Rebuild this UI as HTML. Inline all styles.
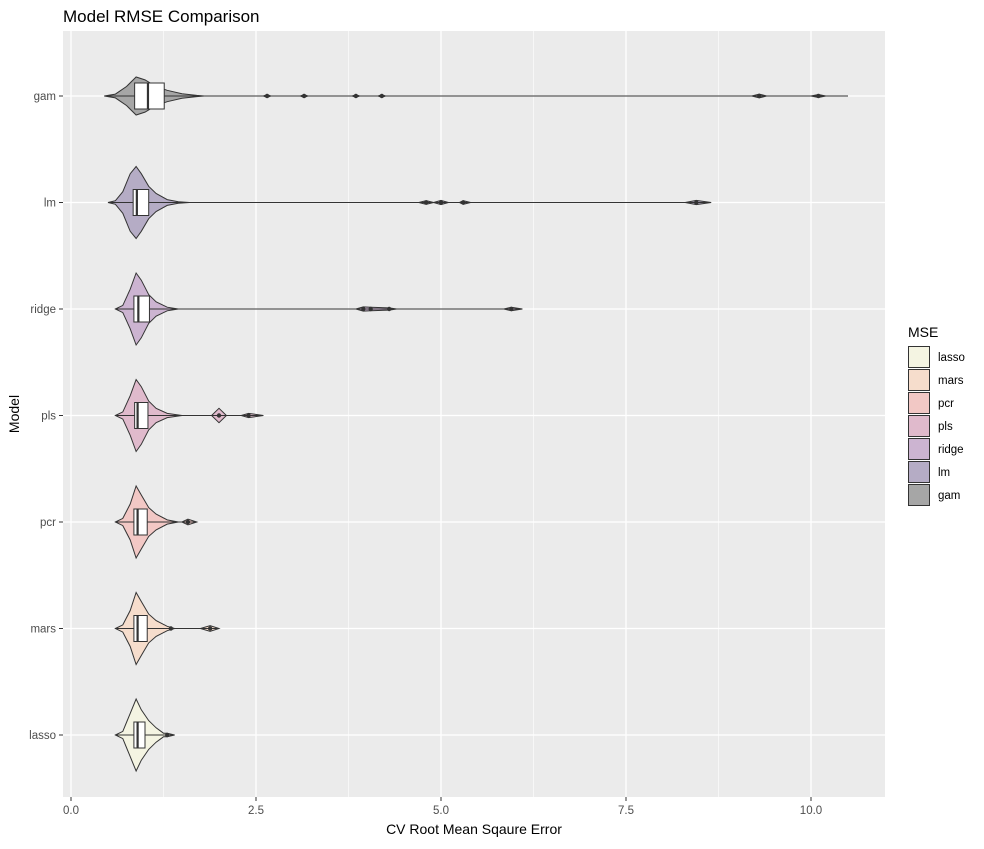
<!DOCTYPE html>
<html><head><meta charset="utf-8"><style>
body{margin:0;background:#fff;font-family:"Liberation Sans",Arial,sans-serif}
svg text{font-family:"Liberation Sans",Arial,sans-serif}
</style></head><body>
<svg id="chart" width="984" height="844" xmlns="http://www.w3.org/2000/svg">
<text x="63" y="22" font-size="17" fill="#000">Model RMSE Comparison</text>
<rect x="63" y="31" width="822" height="766" fill="#ebebeb"/>
<g id="grid"></g><g id="marks"></g><g id="axes"></g><g id="legend"></g>
<text x="474" y="834" font-size="14" fill="#000" text-anchor="middle">CV Root Mean Sqaure Error</text>
<text transform="translate(19,414) rotate(-90)" font-size="14" fill="#000" text-anchor="middle">Model</text>
</svg>
<script>
const models=["gam","lm","ridge","pls","pcr","mars","lasso"];
const colors=["#a6a6a6","#b5acc5","#ccb4d1","#e0bacc","#f2c8c5","#f6ddcc","#f4f4e2"];
const legendOrder=["lasso","mars","pcr","pls","ridge","lm","gam"];
const xTicks=[0,2.5,5,7.5,10];
const xTickLabels=["0.0","2.5","5.0","7.5","10.0"];
const q1=[0.86,0.84,0.85,0.86,0.85,0.85,0.85];
const med=[1.04,0.89,0.91,0.9,0.9,0.9,0.9];
const q3=[1.26,1.05,1.06,1.04,1.03,1.03,1.0];
const outliers=[[2.65,3.15,3.85,4.2,9.3,10.1],[4.8,5.0,5.3,8.45],[3.95,4.05,4.3,5.95],[2.0,2.4],[1.58],[1.35,1.88],[1.3]];
const densX=[
[0.45,0.6,0.75,0.88,1.0,1.15,1.3,1.5,1.7,1.8,2.6,2.65,2.7,3.1,3.15,3.2,3.8,3.85,3.9,4.15,4.2,4.25,9.2,9.3,9.4,10.0,10.1,10.2,10.5],
[0.5,0.6,0.7,0.8,0.88,0.95,1.05,1.15,1.3,1.45,1.6,4.7,4.8,4.9,5.0,5.1,5.25,5.3,5.4,8.3,8.45,8.65],
[0.6,0.7,0.8,0.88,0.95,1.05,1.15,1.3,1.45,3.85,3.95,4.05,4.15,4.3,4.4,5.85,5.95,6.1],
[0.6,0.7,0.8,0.88,0.95,1.05,1.15,1.3,1.5,1.9,2.0,2.1,2.3,2.4,2.6],
[0.6,0.7,0.8,0.88,0.95,1.05,1.15,1.3,1.45,1.5,1.58,1.7],
[0.6,0.7,0.8,0.88,0.95,1.05,1.15,1.3,1.4,1.75,1.88,2.0],
[0.6,0.7,0.8,0.88,0.95,1.05,1.15,1.25,1.3,1.4]];
const densW=[
[0,0.1,0.5,1,0.85,0.5,0.3,0.12,0.03,0,0,0.08,0,0,0.08,0,0,0.07,0,0,0.07,0,0,0.1,0,0,0.08,0,0],
[0,0.05,0.3,0.8,1,0.8,0.45,0.25,0.08,0.02,0,0,0.05,0,0.06,0,0,0.05,0,0,0.06,0],
[0,0.1,0.55,1,0.8,0.4,0.2,0.05,0,0,0.06,0.05,0.04,0.03,0,0,0.05,0],
[0,0.1,0.55,1,0.8,0.4,0.2,0.06,0,0,0.2,0,0,0.06,0],
[0,0.1,0.5,1,0.75,0.4,0.22,0.06,0,0,0.08,0],
[0,0.1,0.5,1,0.75,0.4,0.22,0.06,0,0,0.08,0],
[0,0.1,0.6,1,0.7,0.4,0.2,0.05,0.05,0]];
const halfMax=[19,36,36,36,36,36,36];

const NS="http://www.w3.org/2000/svg";
const X=v=>71+74*v;
const Y=i=>96+106.5*i;
function mk(tag,attrs,parent){const e=document.createElementNS(NS,tag);for(const k in attrs)e.setAttribute(k,attrs[k]);parent.appendChild(e);return e;}
const grid=document.getElementById('grid'),marks=document.getElementById('marks'),axes=document.getElementById('axes'),legend=document.getElementById('legend');
for(let t=0;t<=10.5;t+=1.25){const g=mk('line',{x1:X(t),x2:X(t),y1:31,y2:797,stroke:'#fff','stroke-width':(t%2.5===0)?1.3:0.6},grid);

}
models.forEach((m,i)=>{const g=mk('line',{x1:63,x2:885,y1:Y(i),y2:Y(i),stroke:'#fff','stroke-width':1.3},grid);


const tl=mk('text',{x:56,y:Y(i)+4,'font-size':11.5,fill:'#4d4d4d','text-anchor':'end'},axes);tl.textContent=m;


mk('line',{x1:59,x2:63,y1:Y(i),y2:Y(i),stroke:'#333'},axes);});
xTicks.forEach((t,k)=>{mk('line',{x1:X(t),x2:X(t),y1:797,y2:801,stroke:'#333'},axes);
const tl=mk('text',{x:X(t),y:814,'font-size':11.5,fill:'#4d4d4d','text-anchor':'middle'},axes);tl.textContent=xTickLabels[k];

});
models.forEach((m,i)=>{
 const y=Y(i),xs=densX[i],ws=densW[i],h=halfMax[i];
 let top=xs.map((v,k)=>X(v)+','+(y-ws[k]*h)).join(' L');
 let bot=xs.slice().reverse().map((v,k)=>X(v)+','+(y+ws[xs.length-1-k]*h)).join(' L');
 const p=mk('path',{d:'M'+top+' L'+bot+' Z',fill:colors[i],stroke:'#333','stroke-width':1},marks);
 
 
 const w=mk('line',{x1:X(xs[0]),x2:X(xs[xs.length-1]),y1:y,y2:y,stroke:'#333','stroke-width':1},marks);
 
 
 const b=mk('rect',{x:X(q1[i]),y:y-13,width:X(q3[i])-X(q1[i]),height:26,fill:'#fff',stroke:'#333','stroke-width':1},marks);
 
 
 const md=mk('line',{x1:X(med[i]),x2:X(med[i]),y1:y-13,y2:y+13,stroke:'#333','stroke-width':2.2},marks);
 
 
 outliers[i].forEach(o=>{const c=mk('circle',{cx:X(o),cy:y,r:2.2,fill:'#333'},marks);
 
 });
});
const lt=mk('text',{x:908,y:337,'font-size':14,fill:'#000'},legend);lt.textContent='MSE';


legendOrder.forEach((m,k)=>{const i=models.indexOf(m);const y=346+k*23;
 const r=mk('rect',{x:908.5,y:y+0.5,width:21,height:21,fill:colors[i],stroke:'#333','stroke-width':1},legend);
 
 
 const t=mk('text',{x:938,y:y+15,'font-size':11.5,fill:'#000'},legend);t.textContent=m;
 
 });
</script>
</body></html>
